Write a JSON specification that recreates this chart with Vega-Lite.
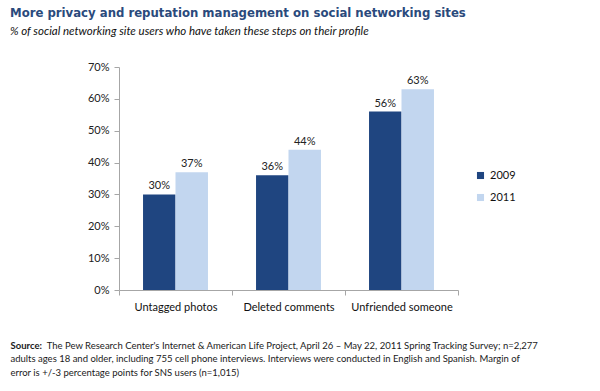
{
  "$schema": "https://vega.github.io/schema/vega-lite/v6.json",
  "width": 339,
  "height": 223,
  "autosize": {"type": "none"},
  "padding": {"left": 119, "top": 67, "right": 142, "bottom": 101},
  "background": "white",
  "title": {
    "text": "More privacy and reputation management on social networking sites",
    "subtitle": "% of social networking site users who have taken these steps on their profile",
    "anchor": "start",
    "frame": "group",
    "dx": -109,
    "offset": 24,
    "font": "DejaVu Sans Condensed",
    "fontSize": 13,
    "fontWeight": "bold",
    "color": "#2a4a7c",
    "subtitleFont": "Lato",
    "subtitleFontSize": 11.5,
    "subtitleFontStyle": "italic",
    "subtitleColor": "#111111",
    "subtitlePadding": 6
  },
  "data": {
    "values": [
      {"step": "Untagged photos", "year": "2009", "pct": 0.30},
      {"step": "Untagged photos", "year": "2011", "pct": 0.37},
      {"step": "Deleted comments", "year": "2009", "pct": 0.36},
      {"step": "Deleted comments", "year": "2011", "pct": 0.44},
      {"step": "Unfriended someone", "year": "2009", "pct": 0.56},
      {"step": "Unfriended someone", "year": "2011", "pct": 0.63}
    ]
  },
  "encoding": {
    "x": {
      "field": "step",
      "type": "nominal",
      "sort": null,
      "scale": {"paddingInner": 0, "paddingOuter": 0},
      "axis": {
        "title": [
          "\u200b\u00a0\u00a0\u00a0\u00a0\u00a0\u00a0\u00a0\u00a0\u00a0\u00a0\u00a0\u00a0\u00a0\u00a0\u00a0The Pew Research Center's Internet & American Life Project, April 26 – May 22, 2011 Spring Tracking Survey; n=2,277",
          "adults ages 18 and older, including 755 cell phone interviews. Interviews were conducted in English and Spanish. Margin of",
          "error is +/-3 percentage points for SNS users (n=1,015)"
        ],
        "titleAnchor": "start",
        "titleAlign": "left",
        "titleBaseline": "middle",
        "titleX": -109,
        "titleY": 55,
        "titleFont": "Lato",
        "titleFontSize": 9.5,
        "titleFontWeight": "normal",
        "titleColor": "#1a1a1a",
        "titleLineHeight": 13.5,
        "labelAngle": 0,
        "labelFont": "Lato",
        "labelFontSize": 11,
        "labelColor": "#111111",
        "labelPadding": 6,
        "tickBand": "extent",
        "tickColor": "#a6a6a6",
        "tickSize": 5,
        "domainColor": "#a6a6a6"
      }
    },
    "xOffset": {
      "field": "year",
      "type": "nominal",
      "scale": {"paddingInner": 0, "paddingOuter": 0.74}
    },
    "y": {
      "field": "pct",
      "type": "quantitative",
      "scale": {"domain": [0, 0.7]},
      "axis": {
        "title": "Source:",
        "titleAngle": 0,
        "titleAlign": "left",
        "titleBaseline": "middle",
        "titleX": -109,
        "titleY": 278,
        "titleFont": "Lato",
        "titleFontSize": 9.5,
        "titleFontWeight": "bold",
        "titleColor": "#1a1a1a",
        "values": [0, 0.1, 0.2, 0.3, 0.4, 0.5, 0.6, 0.7],
        "format": ".0%",
        "grid": false,
        "labelFont": "Lato",
        "labelFontSize": 11,
        "labelColor": "#222222",
        "labelPadding": 5,
        "tickColor": "#a6a6a6",
        "tickSize": 5,
        "domainColor": "#a6a6a6"
      }
    }
  },
  "layer": [
    {
      "mark": {"type": "bar"},
      "encoding": {
        "color": {
          "field": "year",
          "type": "nominal",
          "scale": {"domain": ["2009", "2011"], "range": ["#1f4580", "#c2d6ef"]},
          "legend": {
            "title": null,
            "orient": "none",
            "legendX": 356,
            "legendY": 103,
            "symbolType": "square",
            "symbolSize": 50,
            "symbolStrokeWidth": 0,
            "labelFont": "Lato",
            "labelFontSize": 11,
            "labelColor": "#111111",
            "rowPadding": 10,
            "labelOffset": 4
          }
        }
      }
    },
    {
      "mark": {"type": "text", "baseline": "bottom", "dy": -3, "font": "Lato", "fontSize": 11, "color": "#222222"},
      "encoding": {
        "text": {"field": "pct", "type": "quantitative", "format": ".0%"}
      }
    }
  ],
  "config": {"view": {"stroke": null}}
}
